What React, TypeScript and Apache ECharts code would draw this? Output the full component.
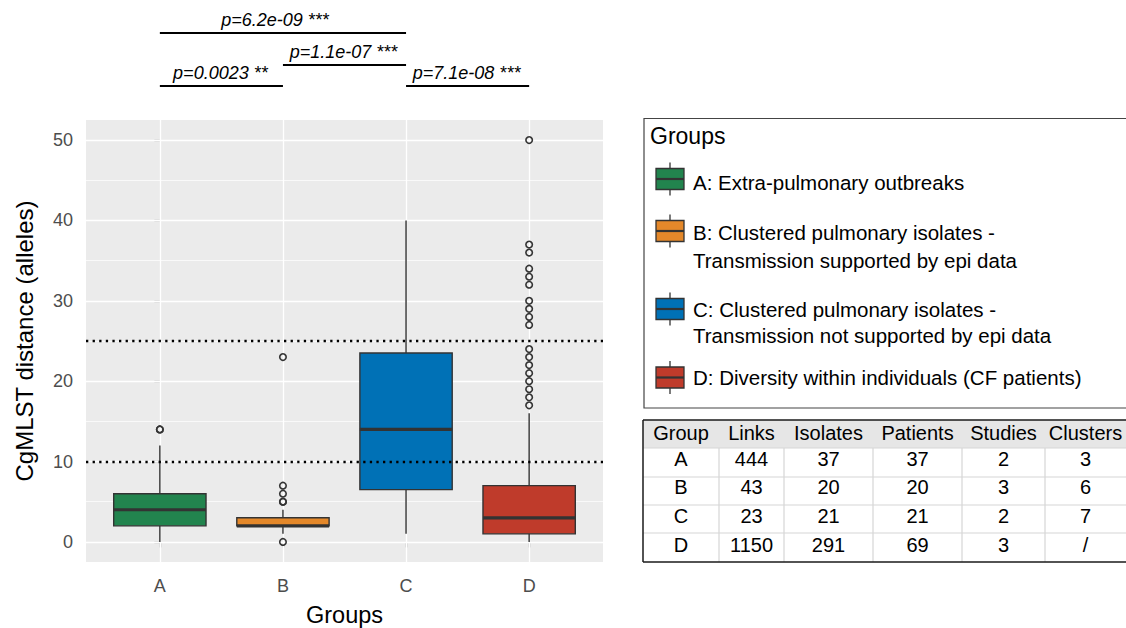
import React, { useEffect, useRef } from "react";
import * as echarts from "echarts";

const FONT = '"Liberation Sans", Arial, Helvetica, sans-serif';

// ---- data ----
const groups = ["A", "B", "C", "D"];
const whiskerLow = [0, 1, 1, 0];
const q1 = [2, 2, 6.5, 1];
const median = [4, 2, 14, 3];
const q3 = [6, 3, 23.5, 7];
const whiskerHigh = [12, 4, 40, 16];
const outliersA = [14, 14];
const outliersB = [0, 5, 5, 6, 7, 23];
const outliersC: number[] = [];
const outliersD = [17, 18, 19, 20, 21, 22, 23, 24, 27, 28, 29, 30, 32, 33, 34, 36, 37, 50];
const fillColors = ["#22844E", "#E4882A", "#0071B6", "#BF3B2B"];

const yTickValues = [0, 10, 20, 30, 40, 50];
const yMinorValues = [5, 15, 25, 35, 45];
const thresholdValues = [10, 25];

const compFrom = [0, 1, 0, 2];
const compTo = [2, 2, 1, 3];
const compLabels = ["p=6.2e-09 ***", "p=1.1e-07 ***", "p=0.0023 **", "p=7.1e-08 ***"];

const legendTitle = "Groups";
const legendLabels = [
  ["A: Extra-pulmonary outbreaks"],
  ["B: Clustered pulmonary isolates -", "Transmission supported by epi data"],
  ["C: Clustered pulmonary isolates -", "Transmission not supported by epi data"],
  ["D: Diversity within individuals (CF patients)"],
];

const tableHeader = ["Group", "Links", "Isolates", "Patients", "Studies", "Clusters"];
const tableRows = [
  ["A", "444", "37", "37", "2", "3"],
  ["B", "43", "20", "20", "3", "6"],
  ["C", "23", "21", "21", "2", "7"],
  ["D", "1150", "291", "69", "3", "/"],
];

// ---- layout (pixels) ----
const compLineY = [33, 65, 86, 86];
const compTextDx = [-8, -1, -1, -1];
const legendKeyY = [179, 231, 309, 377.5];
const legendTextY = [[182.5], [232.5, 260], [309, 335.5], [377.5]];
const tableColEdges = [643, 719, 784, 873, 962, 1045, 1130];
const tableRowEdges = [420, 448, 477, 505, 533, 562];
const tableTextY = [432.5, 458.5, 487, 516, 545];

function buildGraphic() {
  const els: any[] = [];
  // legend box
  els.push({
    type: "rect",
    shape: { x: 644, y: 118.5, width: 500, height: 289.5 },
    style: { fill: "#fff", stroke: "#444", lineWidth: 1.2 },
    z: 1,
  });
  els.push({
    type: "text",
    x: 650,
    y: 135.5,
    style: { text: legendTitle, fill: "#000", fontSize: 23, fontFamily: FONT, align: "left", verticalAlign: "middle" },
    z: 2,
  });
  legendLabels.forEach((lines, i) => {
    const cy = legendKeyY[i];
    const kx = 656;
    const kw = 28;
    const kh = 21;
    els.push({
      type: "line",
      shape: { x1: kx + kw / 2, y1: cy - kh / 2 - 6, x2: kx + kw / 2, y2: cy + kh / 2 + 6 },
      style: { stroke: "#333", lineWidth: 1.3 },
      z: 2,
    });
    els.push({
      type: "rect",
      shape: { x: kx, y: cy - kh / 2, width: kw, height: kh },
      style: { fill: fillColors[i], stroke: "#333", lineWidth: 1.3 },
      z: 3,
    });
    els.push({
      type: "line",
      shape: { x1: kx, y1: cy, x2: kx + kw, y2: cy },
      style: { stroke: "#333", lineWidth: 2.2 },
      z: 4,
    });
    lines.forEach((t, j) => {
      els.push({
        type: "text",
        x: 693,
        y: legendTextY[i][j],
        style: { text: t, fill: "#000", fontSize: 20.5, fontFamily: FONT, align: "left", verticalAlign: "middle" },
        z: 2,
      });
    });
  });

  // table
  const tl = tableColEdges[0];
  const tr = tableColEdges[tableColEdges.length - 1];
  const tt = tableRowEdges[0];
  const tb = tableRowEdges[tableRowEdges.length - 1];
  els.push({
    type: "rect",
    shape: { x: tl, y: tt, width: tr - tl, height: tableRowEdges[1] - tt },
    style: { fill: "#E6E6E6" },
    z: 1,
  });
  for (let r = 1; r < tableRowEdges.length - 1; r++) {
    els.push({
      type: "line",
      shape: { x1: tl, y1: tableRowEdges[r], x2: tr, y2: tableRowEdges[r] },
      style: { stroke: "#D6D6D6", lineWidth: 1.2 },
      z: 2,
    });
  }
  for (let c = 1; c < tableColEdges.length - 1; c++) {
    els.push({
      type: "line",
      shape: { x1: tableColEdges[c], y1: tableRowEdges[1], x2: tableColEdges[c], y2: tb },
      style: { stroke: "#D6D6D6", lineWidth: 1.2 },
      z: 2,
    });
  }
  els.push({ type: "line", shape: { x1: tl, y1: tt, x2: tr, y2: tt }, style: { stroke: "#1a1a1a", lineWidth: 1.5 }, z: 3 });
  els.push({ type: "line", shape: { x1: tl, y1: tt, x2: tl, y2: tb }, style: { stroke: "#1a1a1a", lineWidth: 1.5 }, z: 3 });
  els.push({ type: "line", shape: { x1: tl, y1: tb, x2: tr, y2: tb }, style: { stroke: "#1a1a1a", lineWidth: 1.5 }, z: 3 });
  const allRows = [tableHeader, ...tableRows];
  allRows.forEach((row, r) => {
    row.forEach((cell, c) => {
      els.push({
        type: "text",
        x: (tableColEdges[c] + tableColEdges[c + 1]) / 2 - (c === tableColEdges.length - 2 ? 2 : 0),
        y: tableTextY[r],
        style: { text: cell, fill: "#000", fontSize: 20, fontFamily: FONT, align: "center", verticalAlign: "middle" },
        z: 4,
      });
    });
  });
  return els;
}

export default function App() {
  const ref = useRef<HTMLDivElement>(null);
  useEffect(() => {
    if (!ref.current) return;
    const chart = echarts.init(ref.current, undefined, { renderer: "svg" });

    const boxData = groups.map((g, i) => [i, whiskerLow[i], q1[i], median[i], q3[i], whiskerHigh[i]]);
    const outlierData = [
      ...outliersA.map((v) => [0, v]),
      ...outliersB.map((v) => [1, v]),
      ...outliersC.map((v) => [2, v]),
      ...outliersD.map((v) => [3, v]),
    ];
    const compData = compFrom.map((f, i) => [f, compTo[i], i]);

    const option: any = {
      animation: false,
      textStyle: { fontFamily: FONT },
      grid: {
        left: 86,
        top: 120,
        width: 517,
        height: 442,
        show: true,
        backgroundColor: "#EBEBEB",
        borderWidth: 0,
        containLabel: false,
        outerBoundsMode: "none",
      },
      xAxis: {
        type: "value",
        min: -0.6,
        max: 3.6,
        axisLine: { show: false },
        axisTick: { show: true, customValues: [0, 1, 2, 3], length: 5.5, lineStyle: { color: "#333", width: 1.2 } },
        axisLabel: {
          customValues: [0, 1, 2, 3],
          formatter: (v: number) => groups[Math.round(v)] ?? "",
          color: "#4D4D4D",
          fontSize: 18,
          margin: 15,
          fontFamily: FONT,
        },
        splitLine: { show: false },
        name: "Groups",
        nameLocation: "middle",
        nameGap: 41,
        nameTextStyle: { fontSize: 23.5, color: "#000", fontFamily: FONT },
      },
      yAxis: {
        type: "value",
        min: -2.5,
        max: 52.5,
        axisLine: { show: false },
        axisTick: { show: true, customValues: yTickValues, length: 5.5, lineStyle: { color: "#333", width: 1.2 } },
        axisLabel: {
          customValues: yTickValues,
          color: "#4D4D4D",
          fontSize: 18,
          margin: 13,
          fontFamily: FONT,
        },
        splitLine: { show: false },
        name: "CgMLST distance (alleles)",
        nameLocation: "middle",
        nameGap: 50,
        nameRotate: 90,
        nameTextStyle: { fontSize: 24, color: "#000", fontFamily: FONT },
      },
      graphic: buildGraphic(),
      series: [
        {
          type: "line",
          data: [],
          silent: true,
          z: 1,
          markLine: {
            silent: true,
            z: 1,
            symbol: ["none", "none"],
            label: { show: false },
            data: [
              ...yMinorValues.map((v) => ({ yAxis: v, lineStyle: { color: "#FFFFFF", width: 0.7, type: "solid" } })),
              ...yTickValues.map((v) => ({ yAxis: v, lineStyle: { color: "#FFFFFF", width: 1.3, type: "solid" } })),
              ...groups.map((g, i) => ({ xAxis: i, lineStyle: { color: "#FFFFFF", width: 1.3, type: "solid" } })),
            ],
          },
        },
        {
          type: "custom",
          z: 3,
          silent: true,
          data: boxData,
          encode: { x: 0, y: [1, 2, 3, 4, 5] },
          renderItem: (params: any, api: any) => {
            const i = api.value(0);
            const lo = api.coord([i, api.value(1)]);
            const b1 = api.coord([i, api.value(2)]);
            const md = api.coord([i, api.value(3)]);
            const b3 = api.coord([i, api.value(4)]);
            const hi = api.coord([i, api.value(5)]);
            const w = api.size([0.75, 0])[0];
            const cx = lo[0];
            const color = fillColors[params.dataIndex];
            return {
              type: "group",
              children: [
                { type: "line", shape: { x1: cx, y1: hi[1], x2: cx, y2: b3[1] }, style: { stroke: "#333", lineWidth: 1.4 } },
                { type: "line", shape: { x1: cx, y1: b1[1], x2: cx, y2: lo[1] }, style: { stroke: "#333", lineWidth: 1.4 } },
                {
                  type: "rect",
                  shape: { x: cx - w / 2, y: b3[1], width: w, height: b1[1] - b3[1] },
                  style: { fill: color, stroke: "#333", lineWidth: 1.4 },
                },
                {
                  type: "line",
                  shape: { x1: cx - w / 2, y1: md[1], x2: cx + w / 2, y2: md[1] },
                  style: { stroke: "#333", lineWidth: 3.2 },
                },
              ],
            };
          },
        },
        {
          type: "scatter",
          z: 4,
          silent: true,
          data: outlierData,
          symbol: "circle",
          symbolSize: 6.5,
          itemStyle: { color: "rgba(0,0,0,0)", borderColor: "#333", borderWidth: 1.6, opacity: 1 },
        },
        {
          type: "line",
          data: [],
          silent: true,
          z: 10,
          markLine: {
            silent: true,
            z: 10,
            symbol: ["none", "none"],
            label: { show: false },
            data: thresholdValues.map((v) => ({
              yAxis: v,
              lineStyle: { color: "#000", width: 2.3, type: [2.3, 4.3] },
            })),
          },
        },
        {
          type: "custom",
          z: 10,
          silent: true,
          clip: false,
          data: compData,
          encode: { x: [0, 1] },
          renderItem: (params: any, api: any) => {
            const idx = params.dataIndex;
            const x1 = api.coord([api.value(0), 0])[0];
            const x2 = api.coord([api.value(1), 0])[0];
            const y = compLineY[idx];
            return {
              type: "group",
              children: [
                { type: "line", shape: { x1, y1: y, x2, y2: y }, style: { stroke: "#000", lineWidth: 1.8 } },
                {
                  type: "text",
                  x: (x1 + x2) / 2 + compTextDx[idx],
                  y: y - 13,
                  style: {
                    text: compLabels[idx],
                    fill: "#000",
                    fontSize: 18,
                    fontStyle: "italic",
                    fontFamily: FONT,
                    align: "center",
                    verticalAlign: "middle",
                  },
                },
              ],
            };
          },
        },
      ],
    };
    chart.setOption(option);
    return () => {
      chart.dispose();
    };
  }, []);
  return (
    <div
      ref={ref}
      style={{ position: "absolute", left: 0, top: 0, width: 1126, height: 628, background: "#fff" }}
    />
  );
}
